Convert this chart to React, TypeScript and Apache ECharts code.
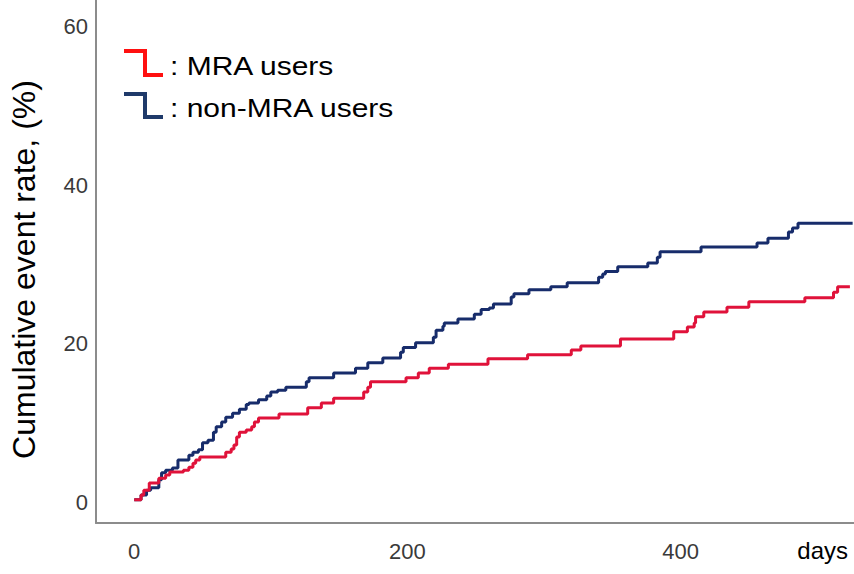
import React, { useEffect, useRef } from "react";
import * as echarts from "echarts";

// Non-MRA users (navy): event day and cumulative event rate (%) after that event
const nonMraDays = [0, 5, 9, 12, 18, 20, 23, 28, 32, 40, 43, 47, 50, 54, 58, 60, 64, 67, 72, 77, 82, 84, 91, 97, 100, 105, 111, 126, 128, 146, 162, 171, 182, 195, 197, 206, 219, 221, 226, 227, 237, 249, 254, 260, 263, 276, 278, 289, 305, 317, 340, 343, 345, 354, 376, 383, 385, 415, 456, 464, 479, 482, 486, 526];
const nonMraRates = [0.3, 0.9, 1.5, 1.8, 2.8, 3.7, 4.0, 4.3, 5.3, 5.9, 6.3, 6.6, 7.5, 7.8, 8.8, 9.5, 10.1, 10.7, 11.2, 11.7, 12.3, 12.5, 12.9, 13.4, 13.9, 14.1, 14.5, 15.2, 15.7, 16.3, 16.9, 17.6, 18.2, 18.9, 19.5, 20.1, 20.8, 21.7, 22.2, 22.6, 23.1, 23.7, 24.3, 24.5, 25.0, 25.9, 26.3, 26.8, 27.2, 27.7, 28.4, 28.8, 29.1, 29.7, 30.2, 30.9, 31.6, 32.2, 32.7, 33.3, 34.1, 34.6, 35.2, 35.2];

// MRA users (red)
const mraDays = [0, 5, 7, 11, 18, 23, 26, 36, 40, 43, 45, 48, 67, 71, 73, 75, 77, 82, 86, 88, 91, 106, 127, 137, 146, 168, 171, 173, 199, 208, 216, 230, 259, 288, 320, 327, 356, 395, 405, 410, 411, 417, 434, 450, 491, 512, 515, 524];
const mraRates = [0.3, 0.9, 1.5, 2.4, 3.0, 3.4, 3.8, 4.0, 4.4, 4.9, 5.3, 5.7, 6.3, 6.7, 7.2, 8.2, 8.8, 9.1, 9.5, 10.1, 10.6, 11.1, 11.9, 12.5, 13.1, 13.9, 14.5, 15.2, 15.7, 16.3, 16.9, 17.4, 18.1, 18.6, 19.2, 19.7, 20.6, 21.5, 22.1, 22.6, 23.4, 24.0, 24.6, 25.3, 25.8, 26.5, 27.2, 27.2];

const xTicks = [0, 200, 400];
const yTicks = [0, 20, 40, 60];

const RED = "#e0123a";
const NAVY = "#172c6b";

export default function App() {
  const ref = useRef<HTMLDivElement>(null);
  useEffect(() => {
    if (!ref.current) return;
    const chart = echarts.init(ref.current, null, { renderer: "svg" });
    const tickFont = "'Liberation Sans', Arial, sans-serif";
    chart.setOption({
      animation: false,
      backgroundColor: "#ffffff",
      grid: { left: 95, top: 0, right: 0, bottom: 51, containLabel: false },
      xAxis: {
        type: "value",
        min: -28,
        max: 527,
        name: "days",
        nameLocation: "end",
        nameGap: -6,
        nameTextStyle: {
          align: "right",
          verticalAlign: "top",
          fontSize: 24,
          color: "#000",
          fontFamily: "'Liberation Sans', Arial, sans-serif",
          padding: [15, 0, 0, 0],
        },
        axisLine: { show: true, onZero: false, lineStyle: { color: "#8c8c8c", width: 2 } },
        axisTick: { show: false },
        splitLine: { show: false },
        axisLabel: {
          customValues: xTicks,
          margin: 17,
          fontSize: 22,
          color: "#3a3a3a",
          fontFamily: tickFont,
        },
      },
      yAxis: {
        type: "value",
        min: -2.65,
        max: 63.4,
        name: "Cumulative event rate, (%)",
        nameLocation: "middle",
        nameGap: 56,
        nameTextStyle: {
          fontSize: 32,
          color: "#000",
          fontFamily: "'Liberation Sans', Arial, sans-serif",
          padding: [0, 16, 0, 0],
        },
        axisLine: { show: true, onZero: false, lineStyle: { color: "#8c8c8c", width: 2 } },
        axisTick: { show: false },
        splitLine: { show: false },
        axisLabel: {
          customValues: yTicks,
          margin: 8,
          fontSize: 22,
          color: "#3a3a3a",
          fontFamily: tickFont,
        },
      },
      series: [
        {
          name: "MRA users",
          type: "line",
          step: "end",
          showSymbol: false,
          data: mraDays.map((d, i) => [d, mraRates[i]]),
          lineStyle: { color: RED, width: 3 },
          itemStyle: { color: RED },
          z: 3,
        },
        {
          name: "non-MRA users",
          type: "line",
          step: "end",
          showSymbol: false,
          data: nonMraDays.map((d, i) => [d, nonMraRates[i]]),
          lineStyle: { color: NAVY, width: 3 },
          itemStyle: { color: NAVY },
          z: 2,
        },
      ],
      graphic: [
        {
          type: "polyline",
          shape: { points: [[124, 51], [145, 51], [145, 75], [163, 75]] },
          style: { stroke: "#ff1010", lineWidth: 4, fill: null },
        },
        {
          type: "polyline",
          shape: { points: [[124, 94], [145, 94], [145, 117], [163, 117]] },
          style: { stroke: "#1f3a6a", lineWidth: 4, fill: null },
        },
        {
          type: "text",
          x: 170,
          y: 66,
          scaleY: 0.85,
          style: {
            text: ": MRA users",
            fontSize: 30,
            fontFamily: "'Liberation Sans', Arial, sans-serif",
            fill: "#000",
            verticalAlign: "middle",
            align: "left",
          },
        },
        {
          type: "text",
          x: 170,
          y: 108,
          scaleY: 0.85,
          style: {
            text: ": non-MRA users",
            fontSize: 30,
            fontFamily: "'Liberation Sans', Arial, sans-serif",
            fill: "#000",
            verticalAlign: "middle",
            align: "left",
          },
        },
      ],
    });
    return () => chart.dispose();
  }, []);
  return (
    <div
      ref={ref}
      style={{ position: "absolute", left: 0, top: 0, width: 854, height: 574 }}
    />
  );
}
